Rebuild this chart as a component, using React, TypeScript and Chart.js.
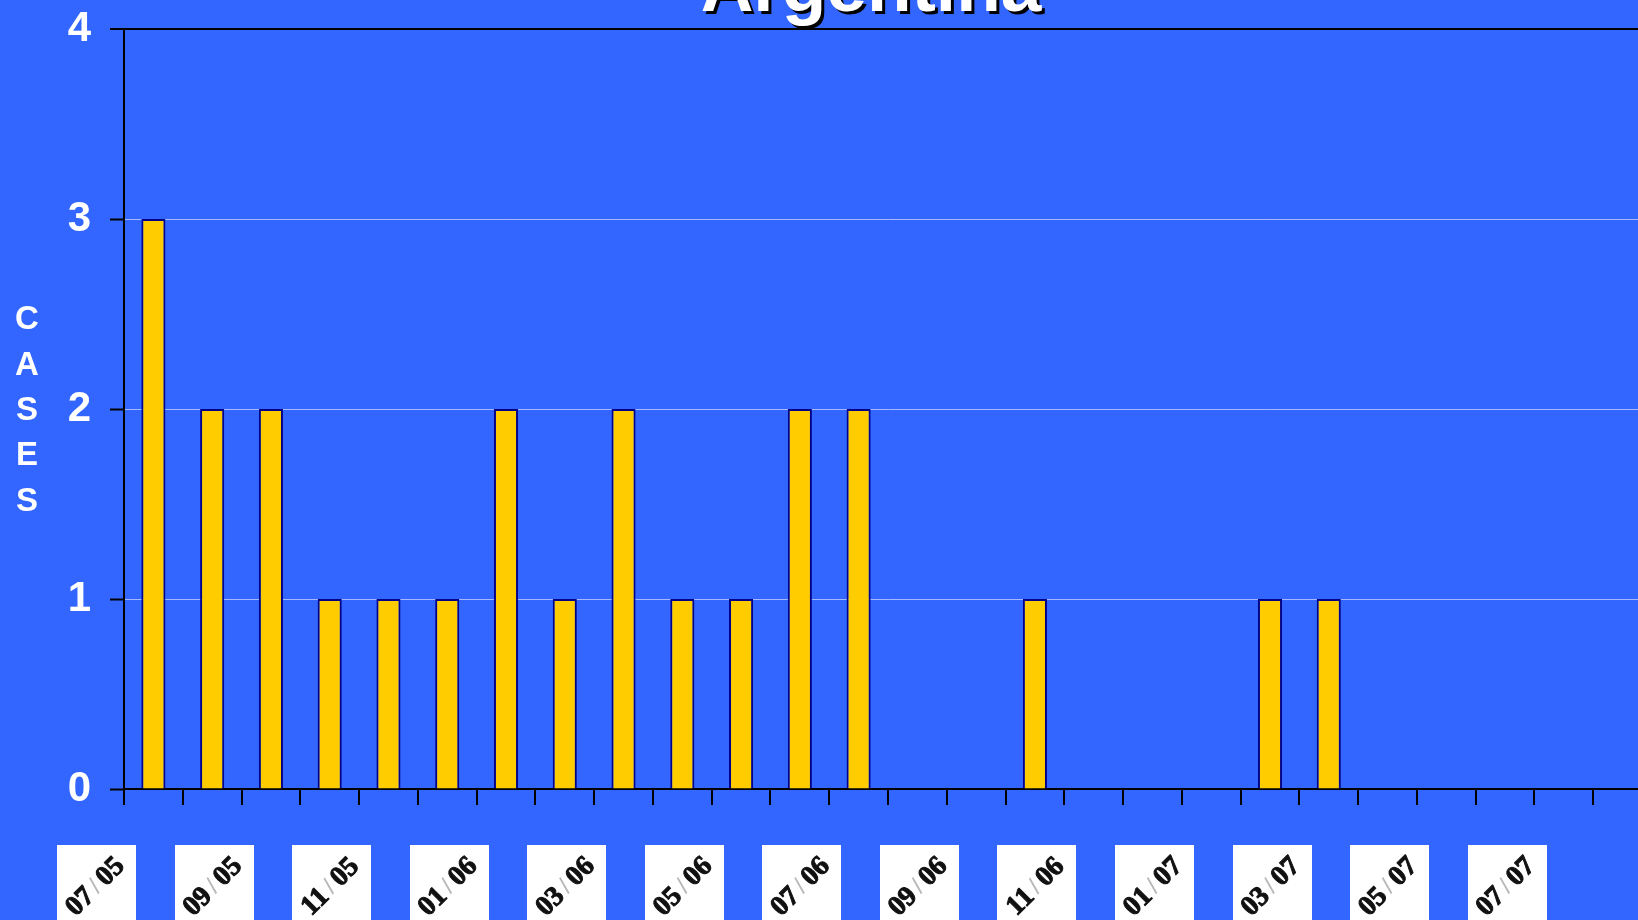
import React, { useEffect, useRef } from 'react';
import { Chart, registerables } from 'chart.js';

Chart.register(...registerables);

// ---- data ----
const titleText = 'Argentina';
const yAxisTitle = 'CASES';
const months = [
  '07/05', '08/05', '09/05', '10/05', '11/05', '12/05',
  '01/06', '02/06', '03/06', '04/06', '05/06', '06/06',
  '07/06', '08/06', '09/06', '10/06', '11/06', '12/06',
  '01/07', '02/07', '03/07', '04/07', '05/07', '06/07',
  '07/07', '08/07',
];
const cases = [3, 2, 2, 1, 1, 1, 2, 1, 2, 1, 1, 2, 2, 0, 0, 1, 0, 0, 0, 1, 1, 0, 0, 0, 0, 0];
const yTicks = [0, 1, 2, 3, 4];
const shownLabels = months.filter((_, i) => i % 2 === 0).slice(0, 13);

const SANS = "'Liberation Sans', Arial, Helvetica, sans-serif";
const SERIF = "'Liberation Serif', 'Times New Roman', serif";

const decorPlugin = {
  id: 'decor',
  beforeDraw(chart: any) {
    const ctx = chart.ctx;
    ctx.save();
    ctx.fillStyle = '#3366FF';
    ctx.fillRect(0, 0, chart.width, chart.height);
    ctx.restore();
  },
  afterDraw(chart: any) {
    const ctx = chart.ctx;
    const xs = chart.scales.x;
    const ca = chart.chartArea;

    // title (partly cut off at top)
    ctx.save();
    ctx.font = `bold 73px ${SANS}`;
    ctx.textAlign = 'center';
    ctx.textBaseline = 'alphabetic';
    ctx.fillStyle = '#000000';
    ctx.fillText(titleText, 874, 14);
    ctx.fillStyle = '#FFFFFF';
    ctx.fillText(titleText, 871, 11);
    ctx.restore();

    // vertical stacked y-axis title
    ctx.save();
    ctx.font = `bold 33px ${SANS}`;
    ctx.textAlign = 'center';
    ctx.textBaseline = 'middle';
    ctx.fillStyle = '#FFFFFF';
    const letters = yAxisTitle.split('');
    const midY = (ca.top + ca.bottom) / 2 + 2;
    letters.forEach((ch, i) => {
      ctx.fillText(ch, 27, midY + (i - (letters.length - 1) / 2) * 45.3);
    });
    ctx.restore();

    // x labels in white boxes
    const step = xs.getPixelForValue(1) - xs.getPixelForValue(0);
    shownLabels.forEach((lab, j) => {
      const cx = xs.getPixelForValue(2 * j) - step + 2;
      const top = ca.bottom + 56;
      ctx.save();
      ctx.fillStyle = '#FFFFFF';
      ctx.fillRect(Math.round(cx - 39.5), top, 79, chart.height - top + 10);
      ctx.translate(cx - 1, top + 42);
      ctx.rotate(-Math.PI / 4);
      const [a, b] = lab.split('/');
      ctx.textBaseline = 'middle';
      ctx.textAlign = 'left';
      const numFont = `bold 28px ${SERIF}`;
      const slashFont = `normal 24px ${SANS}`;
      ctx.font = numFont;
      const wa = ctx.measureText(a).width;
      const wb = ctx.measureText(b).width;
      ctx.font = slashFont;
      const ws = ctx.measureText('/').width;
      const gap = 4;
      const total = wa + gap + ws + gap + wb;
      let x = -total / 2;
      ctx.lineWidth = 1;
      ctx.lineJoin = 'round';
      ctx.font = numFont;
      ctx.fillStyle = '#111111';
      ctx.strokeStyle = '#111111';
      ctx.fillText(a, x, 0);
      ctx.strokeText(a, x, 0);
      x += wa + gap;
      ctx.font = slashFont;
      ctx.fillStyle = '#B8B8B8';
      ctx.fillText('/', x, 0);
      x += ws + gap;
      ctx.font = numFont;
      ctx.fillStyle = '#111111';
      ctx.fillText(b, x, 0);
      ctx.strokeText(b, x, 0);
      ctx.restore();
    });
  },
};

export default function App() {
  const canvasRef = useRef<HTMLCanvasElement | null>(null);

  useEffect(() => {
    document.body.style.margin = '0';
    document.body.style.overflow = 'hidden';
    const canvas = canvasRef.current;
    if (!canvas) return;
    const chart = new Chart(canvas, {
      type: 'bar',
      data: {
        labels: months,
        datasets: [
          {
            label: 'Cases',
            data: cases,
            backgroundColor: '#FFCC00',
            borderColor: '#000088',
            borderWidth: 2,
            barPercentage: 0.41,
            categoryPercentage: 1,
          },
        ],
      },
      options: {
        animation: false,
        responsive: false,
        devicePixelRatio: 1,
        layout: { padding: { top: 29, left: 0, right: 0, bottom: 0 } },
        plugins: {
          legend: { display: false },
          tooltip: { enabled: false },
          title: { display: false },
        },
        scales: {
          x: {
            offset: true,
            grid: {
              display: true,
              drawOnChartArea: false,
              drawTicks: true,
              tickLength: 16,
              tickWidth: 2,
              tickColor: '#000000',
              color: '#000000',
              lineWidth: 2,
              offset: true,
            },
            ticks: { display: false },
            border: { display: true, color: '#000000', width: 2 },
            afterFit: (s: any) => {
              s.height = 131;
              s.paddingLeft = 0;
              s.paddingRight = 0;
            },
          },
          y: {
            min: yTicks[0],
            max: yTicks[yTicks.length - 1],
            ticks: {
              stepSize: 1,
              color: '#FFFFFF',
              padding: 19,
              font: { family: SANS, size: 42, weight: 'bold' },
            },
            grid: {
              color: (c: any) =>
                c.tick && c.tick.value === 4
                  ? '#000000'
                  : c.tick && c.tick.value === 0
                  ? 'rgba(0,0,0,0)'
                  : 'rgba(255,255,255,0.55)',
              lineWidth: (c: any) => (c.tick && c.tick.value === 4 ? 2 : 1),
              tickColor: '#000000',
              tickLength: 14,
              tickWidth: 2,
            },
            border: { display: true, color: '#000000', width: 2 },
            afterFit: (s: any) => {
              s.width = 124;
              s.paddingTop = 0;
              s.paddingBottom = 0;
            },
          },
        },
      },
      plugins: [decorPlugin],
    } as any);
    return () => chart.destroy();
  }, []);

  return (
    <div
      style={{
        position: 'fixed',
        left: 0,
        top: 0,
        width: 1638,
        height: 920,
        overflow: 'hidden',
        background: '#3366FF',
      }}
    >
      <canvas ref={canvasRef} width={1652} height={920} style={{ display: 'block', width: 1652, height: 920 }} />
    </div>
  );
}
